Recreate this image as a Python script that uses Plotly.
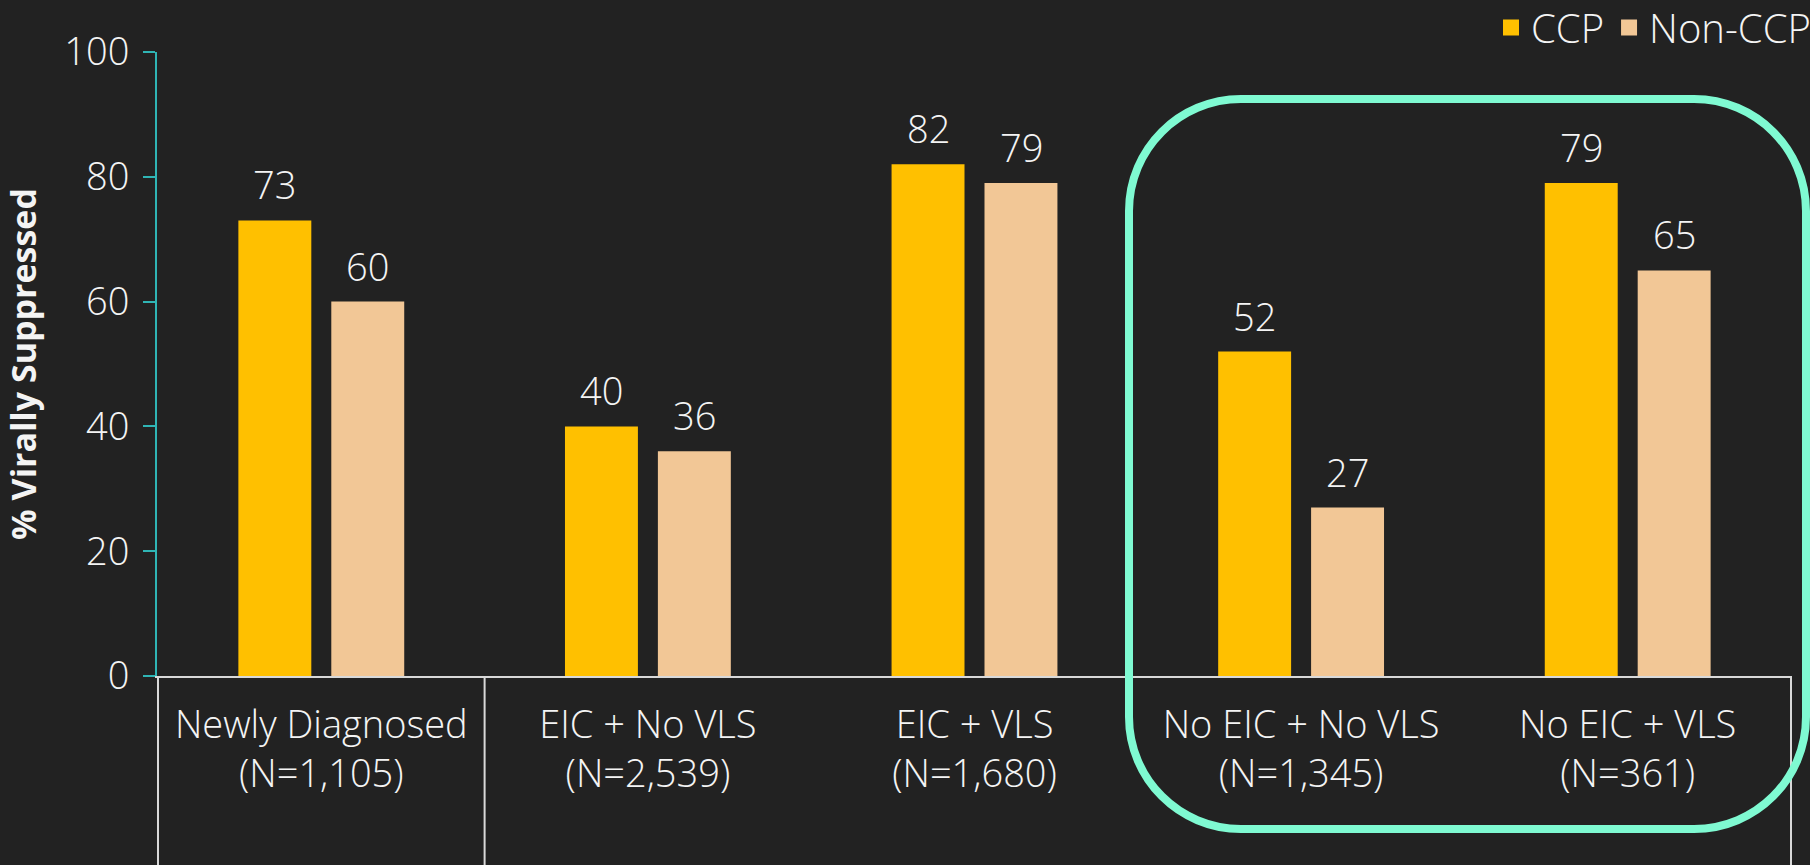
import plotly.graph_objects as go

# Category labels (two-line, with cohort sizes)
categories = [
    "Newly Diagnosed<br>(N=1,105)",
    "EIC + No VLS<br>(N=2,539)",
    "EIC + VLS<br>(N=1,680)",
    "No EIC + No VLS<br>(N=1,345)",
    "No EIC + VLS<br>(N=361)",
]
ccp_values = [73, 40, 82, 52, 79]
non_ccp_values = [60, 36, 79, 27, 65]
y_ticks = [0, 20, 40, 60, 80, 100]

CCP_COLOR = "#FFC000"
NON_CCP_COLOR = "#F2C796"
BG = "#222222"
TEXT = "#F4F4F4"
AXIS_TEAL = "#2FB5B5"
AXIS_GREY = "#D9D9D9"
HIGHLIGHT = "#7FFAD2"
FONT = "Open Sans"
FS = 38

W, H = 1810, 865
L, R, T, B = 157, 18, 52, 189
PW, PH = W - L - R, H - T - B


def px_x(p):
    return (p - L) / PW


def px_y(p):
    return (H - B - p) / PH


def tfont(size=FS, weight=300):
    return dict(family=FONT, size=size, color=TEXT, weight=weight)


fig = go.Figure()

fig.add_trace(go.Bar(x=categories, y=ccp_values, name="CCP",
                     marker=dict(color=CCP_COLOR, line=dict(width=0)),
                     showlegend=False))
fig.add_trace(go.Bar(x=categories, y=non_ccp_values, name="Non-CCP",
                     marker=dict(color=NON_CCP_COLOR, line=dict(width=0)),
                     showlegend=False))

# legend entries with square swatches
for name, col in [("CCP", CCP_COLOR), ("Non-CCP", NON_CCP_COLOR)]:
    fig.add_trace(go.Scatter(x=[None], y=[None], mode="markers", name=name,
                             marker=dict(symbol="square", size=20, color=col),
                             showlegend=True))

# value labels above each bar
annotations = []
slot_shift = 46.5
for cat, v1, v2 in zip(categories, ccp_values, non_ccp_values):
    for v, dx in [(v1, -slot_shift), (v2, slot_shift)]:
        annotations.append(dict(
            x=cat, y=v, xref="x", yref="y", text=str(v), showarrow=False,
            xshift=dx, yshift=36, yanchor="middle", font=tfont()))

# category group separators below the axis
shapes = []
for xs in [-0.5, 0.5, 4.5]:
    shapes.append(dict(type="line", xref="x", yref="paper",
                       x0=xs, x1=xs, y0=0, y1=px_y(H),
                       line=dict(color=AXIS_GREY, width=2), layer="above"))

# rounded highlight frame around the "No EIC" groups
bx0, bx1, by0, by1, rad = 1129, 1806, 99, 829, 112
k = 0.5523


def pt(x, y):
    return f"{px_x(x):.5f},{px_y(y):.5f}"


path = (
    f"M{pt(bx0 + rad, by0)} L{pt(bx1 - rad, by0)} "
    f"C{pt(bx1 - rad + k * rad, by0)} {pt(bx1, by0 + rad - k * rad)} {pt(bx1, by0 + rad)} "
    f"L{pt(bx1, by1 - rad)} "
    f"C{pt(bx1, by1 - rad + k * rad)} {pt(bx1 - rad + k * rad, by1)} {pt(bx1 - rad, by1)} "
    f"L{pt(bx0 + rad, by1)} "
    f"C{pt(bx0 + rad - k * rad, by1)} {pt(bx0, by1 - rad + k * rad)} {pt(bx0, by1 - rad)} "
    f"L{pt(bx0, by0 + rad)} "
    f"C{pt(bx0, by0 + rad - k * rad)} {pt(bx0 + rad - k * rad, by0)} {pt(bx0 + rad, by0)} Z"
)
shapes.append(dict(type="path", xref="paper", yref="paper", path=path,
                   line=dict(color=HIGHLIGHT, width=8), layer="above"))

fig.update_layout(
    width=W, height=H,
    margin=dict(l=L, r=R, t=T, b=B, pad=0, autoexpand=False),
    paper_bgcolor=BG, plot_bgcolor=BG,
    font=tfont(),
    barmode="group", bargap=0.431, bargroupgap=0.215,
    showlegend=True,
    legend=dict(orientation="h", xanchor="right", yanchor="top",
                x=px_x(W + 6), y=px_y(-5), bgcolor="rgba(0,0,0,0)",
                font=tfont(size=40), itemwidth=30, tracegroupgap=0),
    annotations=annotations,
    shapes=shapes,
    xaxis=dict(type="category", showline=True, linecolor=AXIS_GREY, linewidth=2,
               ticks="", showgrid=False, zeroline=False,
               tickfont=tfont(), ticklabelstandoff=14, fixedrange=True),
    yaxis=dict(range=[0, 100], tickvals=y_ticks, showline=True,
               linecolor=AXIS_TEAL, linewidth=2, ticks="outside", ticklen=12,
               tickcolor=AXIS_TEAL, tickwidth=2, showgrid=False, zeroline=False,
               tickfont=tfont(), ticklabelstandoff=6,
               title=dict(text="% Virally Suppressed", standoff=26,
                          font=tfont(size=34, weight="bold")),
               fixedrange=True),
)

fig.write_html("out.html")
